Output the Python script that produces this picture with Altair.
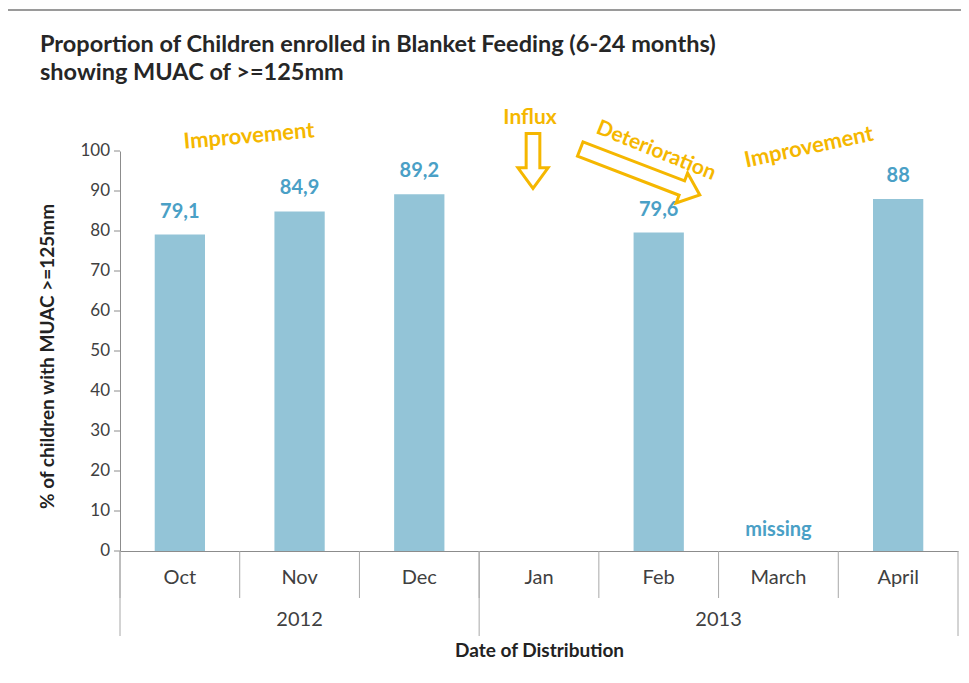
import altair as alt
import pandas as pd

# ---------------- data ----------------
months = ["Oct", "Nov", "Dec", "Jan", "Feb", "March", "April"]
years = ["2012", "2012", "2012", "2013", "2013", "2013", "2013"]
values = [79.1, 84.9, 89.2, None, 79.6, None, 88.0]
value_labels = ["79,1", "84,9", "89,2", "", "79,6", "", "88"]
y_ticks = [0, 10, 20, 30, 40, 50, 60, 70, 80, 90, 100]

title_lines = [
    "Proportion of Children enrolled in Blanket Feeding (6-24 months)",
    "showing MUAC of >=125mm",
]
missing_month = ["March"]
missing_text = ["missing"]

# ---------------- styles ----------------
FONT = "Lato"
BAR = "#93c4d7"
LBL = "#4aa0c6"
GOLD = "#f5b700"
AX = "#8c8c8c"
SEP = "#a8a8a8"
TXT = "#404040"
W, H = 838, 400

df = pd.DataFrame({"month": months, "year": years, "value": values, "label": value_labels})
bars_df = df.dropna(subset=["value"])
ticks_df = pd.DataFrame({"value": y_ticks})

xscale = alt.Scale(domain=months, paddingInner=0, paddingOuter=0)
yscale = alt.Scale(domain=[0, 100], nice=False)

XAXIS = alt.Axis(
    title="Date of Distribution", labelAngle=0, ticks=False, domainColor=AX,
    labelFont=FONT, labelFontSize=20, labelColor=TXT, labelPadding=16,
    titleFont=FONT, titleFontSize=19, titleFontWeight="bold", titleColor="#222",
    titlePadding=54,
)
# y axis: domain line + title from the axis; ticks and labels drawn below
# from y_ticks through the same y scale
YAXIS = alt.Axis(
    labels=False, ticks=False, grid=False, domainColor=AX,
    title="% of children with MUAC >=125mm",
    titleFont=FONT, titleFontSize=19, titleFontWeight="bold", titleColor="#222",
    titlePadding=63, titleY=205,
)


def xenc(**kw):
    return alt.X("month:N", scale=xscale, sort=months, axis=XAXIS, **kw)


def yenc():
    return alt.Y("value:Q", scale=yscale, axis=YAXIS)


bars = alt.Chart(bars_df).mark_bar(color=BAR, width=alt.RelativeBandSize(0.42)).encode(
    x=xenc(), y=yenc()
)

ytick_marks = alt.Chart(ticks_df).mark_rule(color=AX, strokeWidth=1).encode(
    x=alt.value(-6), x2=alt.value(0), y=yenc()
)
ytick_labels = alt.Chart(ticks_df).mark_text(
    font=FONT, fontSize=17, color=TXT, align="right", baseline="middle"
).encode(x=alt.value(-10), y=yenc(), text="value:Q")

vlabels = alt.Chart(bars_df).mark_text(
    font=FONT, fontSize=20, fontWeight="bold", color=LBL, dy=-23
).encode(x=xenc(), y=yenc(), text="label:N")

missing = alt.Chart(pd.DataFrame({"month": missing_month, "t": missing_text})).mark_text(
    font=FONT, fontSize=20, fontWeight="bold", color=LBL
).encode(x=xenc(), y=alt.value(379), text="t:N")

# separators below the axis
month_sep = alt.Chart(df).mark_rule(color=SEP, strokeWidth=1).encode(
    x=xenc(bandPosition=0), y=alt.value(H), y2=alt.value(H + 47)
)
first_of_year = df.drop_duplicates("year", keep="first")
year_sep_left = alt.Chart(first_of_year).mark_rule(color=SEP, strokeWidth=1).encode(
    x=xenc(bandPosition=0), y=alt.value(H), y2=alt.value(H + 85)
)
year_sep_right = alt.Chart(df.tail(1)).mark_rule(color=SEP, strokeWidth=1).encode(
    x=xenc(bandPosition=1), y=alt.value(H), y2=alt.value(H + 85)
)

# year labels centred on their span of months
idx = df.assign(i=range(len(df))).groupby("year")["i"].agg(["min", "max"]).reset_index()
idx["mid"] = (idx["min"] + idx["max"] + 1) / 2.0
idx["anchor"] = [months[int(m)] for m in idx["mid"]]
idx["band"] = idx["mid"] - idx["mid"].astype(int)
year_layers = []
for b, grp in idx.groupby("band"):
    year_layers.append(
        alt.Chart(grp.rename(columns={"anchor": "month"})[["month", "year"]])
        .mark_text(font=FONT, fontSize=20, color=TXT)
        .encode(x=xenc(bandPosition=float(b)), y=alt.value(H + 69), text="year:N")
    )

# title
title = alt.Chart(pd.DataFrame({"t": [title_lines]})).mark_text(
    font=FONT, fontSize=23.5, fontWeight="bold", color="#262626", align="left",
    baseline="middle", lineHeight=28,
).encode(x=alt.value(-80), y=alt.value(-106), text="t")

one = pd.DataFrame({"a": [0]})


def note(text, x, y, angle=0, size=22, color=GOLD, weight="bold"):
    return alt.Chart(pd.DataFrame({"t": [text]})).mark_text(
        font=FONT, fontSize=size, fontWeight=weight, color=color, angle=angle
    ).encode(x=alt.value(x), y=alt.value(y), text="t:N")


notes = [
    note("Improvement", 129, -15, angle=355),
    note("Influx", 410, -33, size=21),
    note("Deterioration", 536, 0, angle=22, size=21),
    note("Improvement", 689, -4, angle=348),
]

down_arrow = alt.Chart(one).mark_point(
    shape="M-0.25,-1 L0.25,-1 L0.25,0.25 L0.55,0.25 L0,1 L-0.55,0.25 L-0.25,0.25 Z",
    size=3000, filled=False, stroke=GOLD, strokeWidth=3, opacity=1,
).encode(x=alt.value(413), y=alt.value(10))

diag_arrow = alt.Chart(one).mark_point(
    shape="M-1,-0.12 L0.7,-0.12 L0.7,-0.25 L1,0 L0.7,0.25 L0.7,0.12 L-1,0.12 Z",
    size=16400, filled=False, stroke=GOLD, strokeWidth=3, opacity=1, angle=21,
).encode(x=alt.value(520), y=alt.value(21))

top_line = alt.Chart(one).mark_rule(color="#9a9a9a", strokeWidth=2).encode(
    x=alt.value(-112), x2=alt.value(W + 3), y=alt.value(-141)
)

chart = alt.layer(
    bars, top_line, ytick_marks, ytick_labels, vlabels, missing, month_sep,
    year_sep_left, year_sep_right, *year_layers, title, *notes, down_arrow, diag_arrow,
).properties(
    width=W, height=H,
    autosize=alt.AutoSizeParams(type="none"),
    padding={"left": 112, "top": 143, "right": 3, "bottom": 124},
).configure_view(stroke=None)

chart.save("out.html", embed_options={"renderer": "svg", "actions": False})
